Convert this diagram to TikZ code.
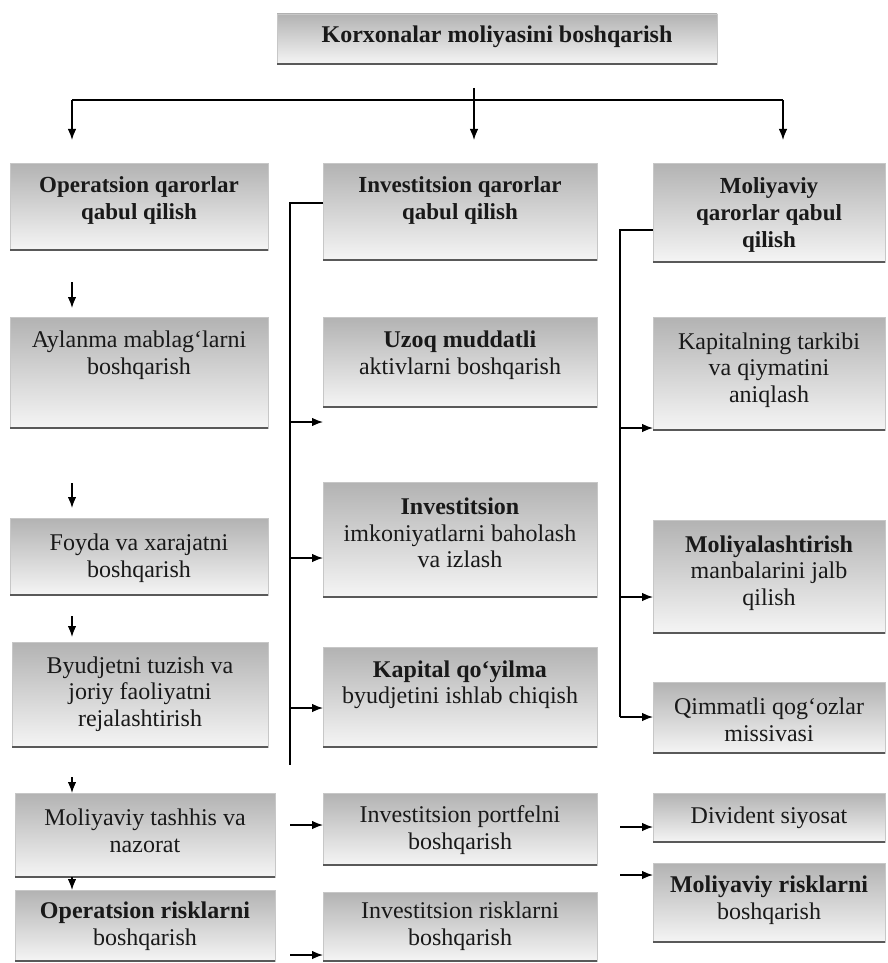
\documentclass[tikz,border=0pt]{standalone}
\usepackage{fontspec}
\setmainfont{Liberation Serif}
\usetikzlibrary{arrows.meta}
\tikzset{
  box/.style={rectangle, inner sep=0pt, outer sep=0pt, top color=black!30, bottom color=black!4, draw=black!22, line width=0.4pt},
  bottomedge/.style={draw=black!65, line width=2pt},
  lbl/.style={inner sep=0pt, align=center, font=\fontsize{24}{26.5}\selectfont, text=black!90},
  hdr/.style={inner sep=0pt, align=center, font=\bfseries\fontsize{23}{27}\selectfont, text=black!90},
  ttl/.style={inner sep=0pt, align=center, font=\bfseries\fontsize{24}{27}\selectfont, text=black!90},
  arr/.style={-{Latex[length=11pt,width=8.5pt]}, line width=1.3pt},
  conn/.style={line width=1.3pt},
}
% #1 name, #2 text style, #3 x1, #4 y1, #5 x2, #6 y2, #7 text centre y, #8 text
\newcommand\bx[8]{%
  \pgfmathsetmacro\bxw{#5-#3}\pgfmathsetmacro\bxh{#6-#4}%
  \pgfmathsetmacro\bxcx{(#3+#5)/2}\pgfmathsetmacro\bxcy{(#4+#6)/2}%
  \node[box, minimum width=\bxw pt, minimum height=\bxh pt] (#1) at (\bxcx,\bxcy) {};
  \draw[bottomedge] (#1.south west) -- (#1.south east);
  \node[#2] (#1-t) at (\bxcx,#7) {#8};
}
\begin{document}
\begin{tikzpicture}[x=1pt,y=-1pt]
\useasboundingbox (0,0) rectangle (888,963);
\fill[white] (0,0) rectangle (888,963);

% title
\bx{top}{ttl}{277}{14}{717}{64}{37}{Korxonalar moliyasini boshqarish}

% left column
\bx{l1}{hdr}{10}{163}{268}{250}{200}{Operatsion qarorlar\\qabul qilish}
\bx{l2}{lbl}{10}{317}{268}{428}{355}{Aylanma mablag‘larni\\boshqarish}
\bx{l3}{lbl}{10}{518}{268}{595}{558}{Foyda va xarajatni\\boshqarish}
\bx{l4}{lbl}{12}{642}{268}{747}{694}{Byudjetni tuzish va\\joriy faoliyatni\\rejalashtirish}
\bx{l5}{lbl}{15}{793}{275}{877}{831}{Moliyaviy tashhis va\\nazorat}
\bx{l6}{lbl}{15}{890}{275}{961}{926}{\textbf{Operatsion risklarni}\\boshqarish}

% middle column
\bx{m1}{hdr}{323}{163}{597}{260}{200}{Investitsion qarorlar\\qabul qilish}
\bx{m2}{lbl}{323}{317}{597}{407}{355}{\textbf{Uzoq muddatli}\\aktivlarni boshqarish}
\bx{m3}{lbl}{323}{482}{597}{597}{533}{\textbf{Investitsion}\\imkoniyatlarni baholash\\va izlash}
\bx{m4}{lbl}{323}{647}{597}{747}{685}{\textbf{Kapital qo‘yilma}\\byudjetini ishlab chiqish}
\bx{m5}{lbl}{323}{793}{597}{865}{830}{Investitsion portfelni\\boshqarish}
\bx{m6}{lbl}{323}{892}{597}{961}{926}{Investitsion risklarni\\boshqarish}

% right column
\bx{r1}{hdr}{653}{163}{885}{262}{215}{Moliyaviy\\qarorlar qabul\\qilish}
\bx{r2}{lbl}{653}{317}{885}{430}{370}{Kapitalning tarkibi\\va qiymatini\\aniqlash}
\bx{r3}{lbl}{653}{520}{885}{633}{573}{\textbf{Moliyalashtirish}\\manbalarini jalb\\qilish}
\bx{r4}{lbl}{653}{682}{885}{753}{720}{Qimmatli qog‘ozlar\\missivasi}
\bx{r5}{lbl}{653}{793}{885}{842}{818}{Divident siyosat}
\bx{r6}{lbl}{653}{863}{885}{942}{900}{\textbf{Moliyaviy risklarni}\\boshqarish}

% top bus
\coordinate (stub) at (474,88);
\coordinate (busL) at (72,100);
\coordinate (busR) at (783,100);
\draw[conn, line width=1.5pt] (busL) -- (busR);
\draw[arr, shorten >=23pt] (stub) -- (stub |- m1.north);
\draw[arr, shorten >=23pt] (busL) -- (busL |- l1.north);
\draw[arr, shorten >=23pt] (busR) -- (busR |- r1.north);

% left column arrows
\coordinate (a1) at (72,282);
\coordinate (a2) at (72,483);
\coordinate (a3) at (72,616);
\coordinate (a4) at (72,777);
\draw[arr, shorten >=9pt] (a1) -- (a1 |- l2.north);
\draw[arr, shorten >=10pt] (a2) -- (a2 |- l3.north);
\draw[arr, shorten >=5pt] (a3) -- (a3 |- l4.north);
\draw[arr] (a4) -- (a4 |- l5.north);
\draw[arr] (a4 |- l5.south) -- (a4 |- l6.north);

% middle bracket
\coordinate (mtop) at (290,203);
\coordinate (mbot) at (290,765);
\draw[conn] (mtop -| m1.west) -- (mtop) -- (mbot);
\coordinate (m2a) at (290,422);
\coordinate (m3a) at (290,558);
\coordinate (m4a) at (290,708);
\coordinate (m5a) at (290,825);
\coordinate (m6a) at (290,955);
\draw[arr] (m2a) -- (m2a -| m2.west);
\draw[arr] (m3a) -- (m3a -| m3.west);
\draw[arr] (m4a) -- (m4a -| m4.west);
\draw[arr] (m5a) -- (m5a -| m5.west);
\draw[arr] (m6a) -- (m6a -| m6.west);

% right bracket
\coordinate (rtop) at (620,230);
\coordinate (rbot) at (620,717);
\draw[conn] (rtop -| r1.west) -- (rtop) -- (rbot);
\coordinate (r2a) at (620,428);
\coordinate (r3a) at (620,597);
\coordinate (r5a) at (620,827);
\coordinate (r6a) at (620,875);
\draw[arr] (r2a) -- (r2a -| r2.west);
\draw[arr] (r3a) -- (r3a -| r3.west);
\draw[arr] (rbot) -- (rbot -| r4.west);
\draw[arr] (r5a) -- (r5a -| r5.west);
\draw[arr] (r6a) -- (r6a -| r6.west);
\end{tikzpicture}
\end{document}
